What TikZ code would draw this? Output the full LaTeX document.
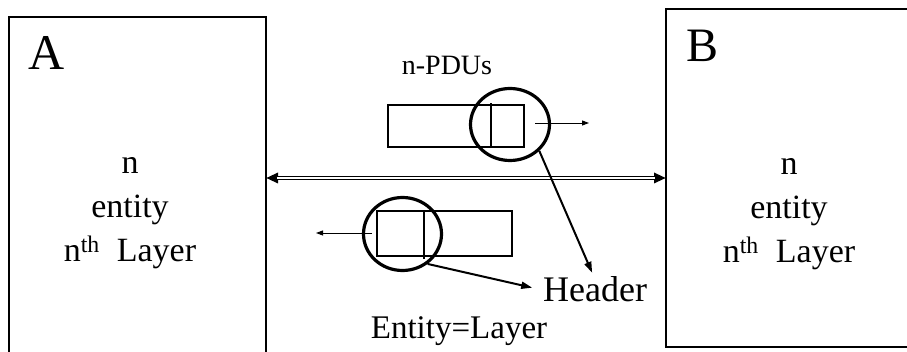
\documentclass[tikz,border=0pt]{standalone}
\usepackage{fontspec}
\setmainfont{Liberation Serif}
\usetikzlibrary{positioning,arrows.meta,shapes.geometric}

\begin{document}
\begin{tikzpicture}[x=1pt,y=-1pt,
  entbox/.style={draw,line width=2pt,anchor=north west,outer sep=0pt,inner sep=0pt},
  enttext/.style={align=center,font=\fontsize{34}{44}\selectfont},
  pdu/.style={draw,line width=2.2pt},
  hdr/.style={draw,ellipse,line width=3.2pt,minimum width=79pt,minimum height=72pt,inner sep=0pt},
  flow/.style={line width=0.9pt,-{Triangle[length=7pt,width=5pt]}},
  pointer/.style={line width=2pt,-{Triangle[length=11pt,width=7pt]}},
  peer/.style={line width=4.4pt,{Triangle[length=12pt,width=10pt]}-{Triangle[length=12pt,width=10pt]}},
  peergap/.style={white,line width=2.4pt,shorten <=11pt,shorten >=11pt}]
\useasboundingbox (0,0) rectangle (907,352);
% the two peer entities
\node[entbox,minimum width=257pt,minimum height=400pt] (boxA) at (9,17) {};
\node[entbox,minimum width=260pt,minimum height=338pt] (boxB) at (666,9) {};
\node[anchor=base west,font=\fontsize{50}{50}\selectfont] (lblA) at (25,70) {A};
\node[anchor=base west,font=\fontsize{48}{48}\selectfont] (lblB) at (683,62) {B};
\node[enttext] (txtA) at (130,213) {n\\entity\\n\textsuperscript{th}\ \ Layer};
\node[enttext] (txtB) at (789,214) {n\\entity\\n\textsuperscript{th}\ \ Layer};
% peer-to-peer link
\draw[peer] (boxA.east |- boxB.west) -- (boxB.west);
\draw[peergap] (boxA.east |- boxB.west) -- (boxB.west);
% PDUs
\node[anchor=base,font=\fontsize{28}{28}\selectfont] (pdus) at (447,75) {n-PDUs};
\node[pdu,minimum width=136pt,minimum height=42pt] (pduTop) at (456,126) {};
\draw[pdu] ([xshift=35pt]pduTop.south) -- ++(0,-45);
\node[hdr] (hdrTop) at (510,124.5) {};
\coordinate (outA) at (535,123);
\coordinate (outB) at (589,123);
\draw[flow] (outA) -- (outB);
\node[pdu,minimum width=135pt,minimum height=45pt] (pduBot) at (444.5,233.5) {};
\draw[pdu] ([xshift=-20.5pt]pduBot.north) -- ++(0,49);
\node[hdr,minimum width=78pt,minimum height=73pt] (hdrBot) at (402.5,234) {};
\coordinate (inA) at (372,233);
\coordinate (inB) at (316,233);
\draw[flow] (inA) -- (inB);
% labels
\node[anchor=base west,inner sep=2pt,font=\fontsize{36}{36}\selectfont] (header) at (541,302) {Header};
\node[anchor=base,font=\fontsize{33}{33}\selectfont] (entlayer) at (459,338) {Entity=Layer};
\draw[pointer] (hdrTop.-42) -- ([xshift=-3pt,yshift=2pt]header.north);
\draw[pointer,shorten >=9pt] (hdrBot.-50) -- (header.west);
\end{tikzpicture}
\end{document}
